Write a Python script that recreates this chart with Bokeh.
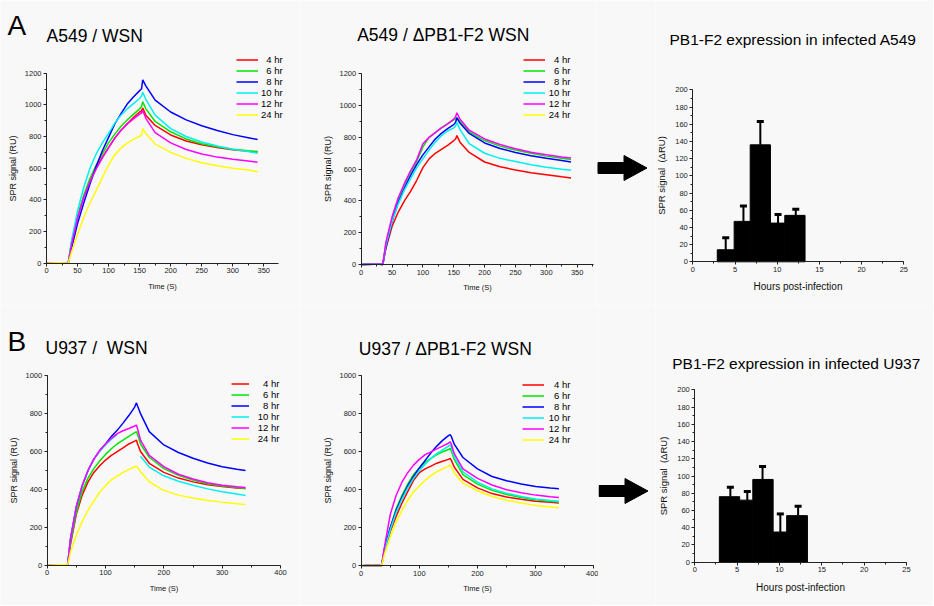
from bokeh.plotting import figure
from bokeh.models import Label, Range1d, SingleIntervalTicker, Whisker, TeeHead, ColumnDataSource
from bokeh.layouts import column, row
from bokeh.embed import file_html
from bokeh.resources import INLINE

nan = float("nan")

# ---------------- data ----------------
TIME_S = [0, 20, 30, 35, 40, 50, 60, 70, 80, 90, 100, 110, 120, 130, 140, 150, 153, 155, 160, 175, 200, 225, 250, 275, 300, 325, 340]
SERIES_LABELS = ["\u00a0\u00a04 hr", "\u00a0\u00a06 hr", "\u00a0\u00a08 hr", "10 hr", "12 hr", "24 hr"]
SERIES_COLORS = ["#ff0000", "#00e600", "#0000ff", "#00f0f0", "#ff00ff", "#ffff00"]

# A549 / WSN
A549_WSN_4 = [0, 3, 2, 0, 120, 290, 420, 520, 600, 670, 730, 790, 840, 880, 920, 955, 962, 980, 935, 870, 810, 772, 748, 730, 716, 707, 702]
A549_WSN_6 = [0, 3, 2, 0, 125, 295, 430, 535, 620, 690, 760, 815, 865, 905, 940, 975, 990, 1020, 975, 895, 830, 785, 755, 735, 720, 710, 705]
A549_WSN_8 = [0, 3, 2, 0, 90, 250, 380, 500, 610, 710, 795, 880, 945, 1005, 1050, 1090, 1100, 1158, 1120, 1030, 955, 905, 868, 838, 812, 793, 781]
A549_WSN_10 = [0, 3, 2, 0, 135, 330, 480, 600, 690, 760, 820, 885, 935, 975, 1008, 1040, 1055, 1080, 1035, 935, 850, 800, 765, 740, 720, 705, 695]
A549_WSN_12 = [0, 3, 2, 0, 110, 285, 415, 515, 595, 665, 730, 790, 840, 880, 912, 942, 948, 965, 915, 825, 760, 718, 690, 670, 656, 645, 638]
A549_WSN_24 = [0, 3, 2, 0, 65, 185, 290, 380, 460, 540, 620, 685, 728, 758, 782, 802, 808, 850, 820, 752, 700, 662, 635, 615, 600, 588, 578]

# A549 / dPB1-F2 WSN  (no 24 hr trace is visible in this panel, only its legend entry)
A549_DEL_4 = [0, 2, 1, 0, 100, 240, 330, 400, 460, 530, 610, 665, 700, 725, 750, 780, 790, 812, 770, 705, 645, 615, 595, 578, 565, 552, 545]
A549_DEL_6 = [0, 2, 1, 0, 130, 290, 410, 500, 580, 650, 740, 800, 830, 860, 885, 910, 918, 925, 900, 835, 780, 745, 720, 700, 682, 668, 660]
A549_DEL_8 = [0, 2, 1, 0, 110, 270, 390, 480, 560, 630, 690, 740, 790, 825, 855, 880, 895, 922, 890, 825, 765, 730, 705, 685, 668, 655, 645]
A549_DEL_10 = [0, 2, 1, 0, 120, 270, 380, 470, 540, 610, 665, 720, 770, 810, 840, 860, 870, 895, 850, 760, 700, 668, 648, 628, 612, 600, 593]
A549_DEL_12 = [0, 2, 1, 0, 140, 300, 420, 510, 590, 660, 760, 800, 830, 860, 885, 915, 930, 955, 915, 845, 790, 755, 728, 707, 690, 677, 670]
A549_DEL_24 = [nan] * len(TIME_S)

# U937 / WSN
U937_WSN_4 = [0, 3, 2, 0, 110, 270, 370, 440, 490, 525, 555, 580, 600, 620, 640, 655, 660, 640, 600, 538, 490, 460, 440, 425, 415, 408, 405]
U937_WSN_6 = [0, 3, 2, 0, 120, 280, 390, 460, 510, 550, 585, 615, 640, 660, 680, 700, 705, 690, 640, 570, 510, 475, 450, 430, 418, 410, 405]
U937_WSN_8 = [0, 3, 2, 0, 140, 310, 420, 500, 560, 605, 640, 680, 712, 750, 790, 835, 857, 840, 800, 705, 635, 595, 565, 540, 520, 507, 500]
U937_WSN_10 = [0, 3, 2, 0, 140, 310, 420, 500, 560, 600, 635, 665, 690, nan, nan, nan, nan, nan, 575, 518, 472, 443, 422, 403, 388, 376, 368]
U937_WSN_12 = [0, 3, 2, 0, 140, 310, 420, 500, 560, 605, 640, 670, 695, 710, 722, 735, 740, 720, 660, 580, 520, 480, 455, 435, 422, 414, 410]
U937_WSN_24 = [0, 3, 2, 0, 70, 160, 230, 290, 340, 385, 420, 450, 470, 490, 505, 520, 523, 515, 495, 440, 395, 370, 355, 342, 333, 325, 320]

# U937 / dPB1-F2 WSN
U937_DEL_4 = [0, 3, 2, 0, 80, 180, 260, 330, 390, 450, 490, 510, 525, 540, 550, 560, 565, 555, 520, 455, 410, 380, 362, 350, 340, 334, 330]
U937_DEL_6 = [0, 3, 2, 0, 90, 200, 300, 370, 430, 480, 515, 545, 565, 585, 600, 612, 618, 605, 560, 480, 430, 397, 375, 360, 348, 340, 336]
U937_DEL_8 = [0, 3, 2, 0, 90, 200, 290, 360, 420, 470, 515, 555, 595, 630, 660, 685, 690, 680, 640, 570, 510, 470, 448, 430, 417, 409, 405]
U937_DEL_10 = [0, 3, 2, 0, 80, 190, 280, 350, 410, 460, 500, 535, 565, 590, 610, 630, 637, 625, 575, 495, 440, 405, 382, 365, 352, 344, 340]
U937_DEL_12 = [0, 3, 2, 0, 100, 270, 370, 440, 490, 530, 560, 585, 600, 615, 630, 645, 652, 640, 590, 510, 460, 425, 400, 385, 372, 364, 360]
U937_DEL_24 = [0, 3, 2, 0, 60, 150, 230, 290, 345, 390, 420, 450, 475, 495, 510, 525, 530, 520, 490, 435, 395, 365, 345, 330, 318, 310, 305]

# PB1-F2 expression (bars: bin edges in hours, mean and error)
A549_BAR_EDGES = [2.9, 4.9, 6.8, 9.2, 10.9, 13.3]
A549_BAR_MEAN = [14, 47, 136, 45, 54]
A549_BAR_ERR = [14, 18, 27, 10, 7]
A549_ERR_HOURS = [3.9, 6.0, 8.0, 10.1, 12.2]

U937_BAR_EDGES = [2.9, 5.3, 6.85, 9.25, 10.85, 13.3]
U937_BAR_MEAN = [76, 72, 96, 35, 54]
U937_BAR_ERR = [11, 10, 15, 21, 11]
U937_ERR_HOURS = [4.2, 6.2, 8.0, 10.1, 12.2]

# block-arrow outline (decoration, in pixels)
ARROW_X = [0, 26, 26, 49, 26, 26, 0]
ARROW_Y = [-5.5, -5.5, -12.5, 0, 12.5, 5.5, 5.5]

# ---------------- style ----------------
BG = "#f8f8f8"
FONT = "Liberation Sans"
LABEL_DY = 8  # empirical baseline correction for canvas-unit labels


def panel_fig(px, py, W, H, xmap, ymap):
    """Figure whose frame fills the whole canvas; xmap/ymap = (value, page_px, value, page_px)."""
    xa, pxa, xb, pxb = xmap
    ya, pya, yb, pyb = ymap
    sx = (pxb - pxa) / (xb - xa)
    x_start = xa - (pxa - px) / sx
    sy = (pya - pyb) / (yb - ya)
    y_start = ya - (py + H - pya) / sy
    p = figure(width=W, height=H, title=None,
               x_range=Range1d(x_start, x_start + W / sx),
               y_range=Range1d(y_start, y_start + H / sy),
               output_backend="svg", toolbar_location=None,
               min_border_left=0, min_border_right=0, min_border_top=0, min_border_bottom=0)
    p.background_fill_color = BG
    p.border_fill_color = BG
    p.outline_line_color = None
    p.grid.visible = False
    p._origin = (px, py, H)
    return p


def style_axis(ax, label, label_size, bounds, ticker, tick_size="7.5px", label_standoff=4):
    ax.fixed_location = 0
    ax.bounds = bounds
    ax.ticker = ticker
    ax.axis_label = label
    ax.axis_label_text_font = FONT
    ax.axis_label_text_font_size = label_size
    ax.axis_label_text_font_style = "normal"
    ax.axis_label_text_color = "#111111"
    ax.axis_label_standoff = label_standoff
    ax.major_label_text_font = FONT
    ax.major_label_text_font_size = tick_size
    ax.major_label_text_color = "#222222"
    ax.major_label_standoff = 2
    ax.major_tick_in = 0
    ax.major_tick_out = 3
    ax.minor_tick_in = 0
    ax.minor_tick_out = 2
    ax.axis_line_color = "#222222"
    ax.major_tick_line_color = "#222222"
    ax.minor_tick_line_color = "#222222"


def add_text(p, page_x, page_base_y, text, size):
    px, py, H = p._origin
    p.add_layout(Label(x=page_x - px, y=page_base_y - py - LABEL_DY, x_units="canvas", y_units="canvas",
                       text=text, text_font=FONT, text_font_size=size, text_color="#000000",
                       text_align="left", text_baseline="alphabetic"))


def spr_panel(px, py, W, H, xmap, ymap, xbound, ybound, xint, series, leg_page, glyph_w, standoff):
    p = panel_fig(px, py, W, H, xmap, ymap)
    for lab, col, ys in zip(SERIES_LABELS, SERIES_COLORS, series):
        p.line(TIME_S, ys, line_color=col, line_width=1.5, legend_label=lab)
    style_axis(p.xaxis[0], "Time (S)", "7.5px", (0, xbound),
               SingleIntervalTicker(interval=xint, num_minor_ticks=2), label_standoff=5)
    style_axis(p.yaxis[0], "SPR signal (RU)", "9px", (0, ybound),
               SingleIntervalTicker(interval=200, num_minor_ticks=2), label_standoff=4)
    lg = p.legend[0]
    lg.location = (leg_page[0] - px, py + H - leg_page[1])
    lg.padding = 0
    lg.margin = 0
    lg.spacing = 0
    lg.glyph_height = 11
    lg.label_height = 11
    lg.glyph_width = glyph_w
    lg.label_standoff = standoff
    lg.label_text_font = FONT
    lg.label_text_font_size = "9.5px"
    lg.label_text_color = "#000000"
    lg.border_line_color = None
    lg.background_fill_alpha = 0
    return p


def bar_panel(px, py, W, H, xmap, ymap, edges, means, errs, err_x):
    p = panel_fig(px, py, W, H, xmap, ymap)
    p.quad(left=edges[:-1], right=edges[1:], bottom=0, top=means,
           fill_color="#000000", line_color="#000000")
    src = ColumnDataSource(dict(x=err_x, lower=means, upper=[m + e for m, e in zip(means, errs)]))
    p.add_layout(Whisker(source=src, base="x", lower="lower", upper="upper",
                         line_color="#000000", line_width=2, lower_head=None,
                         upper_head=TeeHead(size=7, line_width=3, line_color="#000000")))
    style_axis(p.xaxis[0], "Hours post-infection", "10px", (0, 25),
               SingleIntervalTicker(interval=5, num_minor_ticks=2), label_standoff=6)
    style_axis(p.yaxis[0], "SPR signal\u00a0\u00a0(\u0394RU)", "9.5px", (0, 200),
               SingleIntervalTicker(interval=20, num_minor_ticks=2), label_standoff=5)
    return p


def arrow_panel(px, py, W, H, tail_page):
    # one data unit == one pixel; the arrow tail sits at tail_page
    p = panel_fig(px, py, W, H, (0, tail_page[0], 1, tail_page[0] + 1), (0, tail_page[1], 1, tail_page[1] - 1))
    p.xaxis.visible = False
    p.yaxis.visible = False
    p.patch(ARROW_X, ARROW_Y, fill_color="#000000", line_color="#000000")
    return p


# ---------------- row A (page y 0..305) ----------------
a1 = spr_panel(0, 0, 300, 305, (0, 46, 350, 263.3), (0, 262.7, 1200, 72.7), 374, 1200, 50,
               [A549_WSN_4, A549_WSN_6, A549_WSN_8, A549_WSN_10, A549_WSN_12, A549_WSN_24],
               (236, 119.8), 22, 3)
add_text(a1, 7, 32.7, "A", "28px")
add_text(a1, 46, 43.3, "A549 / WSN", "17.5px")

a2 = spr_panel(300, 0, 295, 305, (0, 360.7, 350, 576.7), (0, 264, 1200, 73.3), 376, 1200, 50,
               [A549_DEL_4, A549_DEL_6, A549_DEL_8, A549_DEL_10, A549_DEL_12, A549_DEL_24],
               (522.7, 120.2), 22, 4)
add_text(a2, 356.7, 42.7, "A549 / \u0394PB1-F2 WSN", "17.5px")

arr_a = arrow_panel(595, 0, 60, 305, (597.5, 167.5))

a3 = bar_panel(655, 0, 278, 305, (0, 692.3, 25, 903.3), (0, 261.3, 200, 89.3),
               A549_BAR_EDGES, A549_BAR_MEAN, A549_BAR_ERR, A549_ERR_HOURS)
add_text(a3, 669, 47.3, "PB1-F2 expression in infected A549", "15.5px")

# ---------------- row B (page y 305..605) ----------------
b1 = spr_panel(0, 305, 300, 300, (0, 46.7, 400, 280), (0, 564.7, 1000, 375.3), 400, 1000, 100,
               [U937_WSN_4, U937_WSN_6, U937_WSN_8, U937_WSN_10, U937_WSN_12, U937_WSN_24],
               (230.7, 443.8), 18, 9)
add_text(b1, 7, 349, "B", "28px")
add_text(b1, 45, 355, "U937 /\u00a0\u00a0WSN", "17.5px")

b2 = spr_panel(300, 305, 298, 300, (0, 360.7, 400, 593.3), (0, 565.3, 1000, 375.3), 400, 1000, 100,
               [U937_DEL_4, U937_DEL_6, U937_DEL_8, U937_DEL_10, U937_DEL_12, U937_DEL_24],
               (521.7, 444.8), 22, 5)
add_text(b2, 358.3, 356.7, "U937 / \u0394PB1-F2 WSN", "17.5px")

arr_b = arrow_panel(598, 305, 57, 300, (598.5, 490.5))

b3 = bar_panel(655, 305, 278, 300, (0, 694.3, 25, 906), (0, 561.7, 200, 389.3),
               U937_BAR_EDGES, U937_BAR_MEAN, U937_BAR_ERR, U937_ERR_HOURS)
add_text(b3, 671.7, 370.7, "PB1-F2 expression in infected U937", "15.5px")

layout = column(row(a1, a2, arr_a, a3), row(b1, b2, arr_b, b3))

open("out.html", "w").write(file_html(layout, INLINE))
